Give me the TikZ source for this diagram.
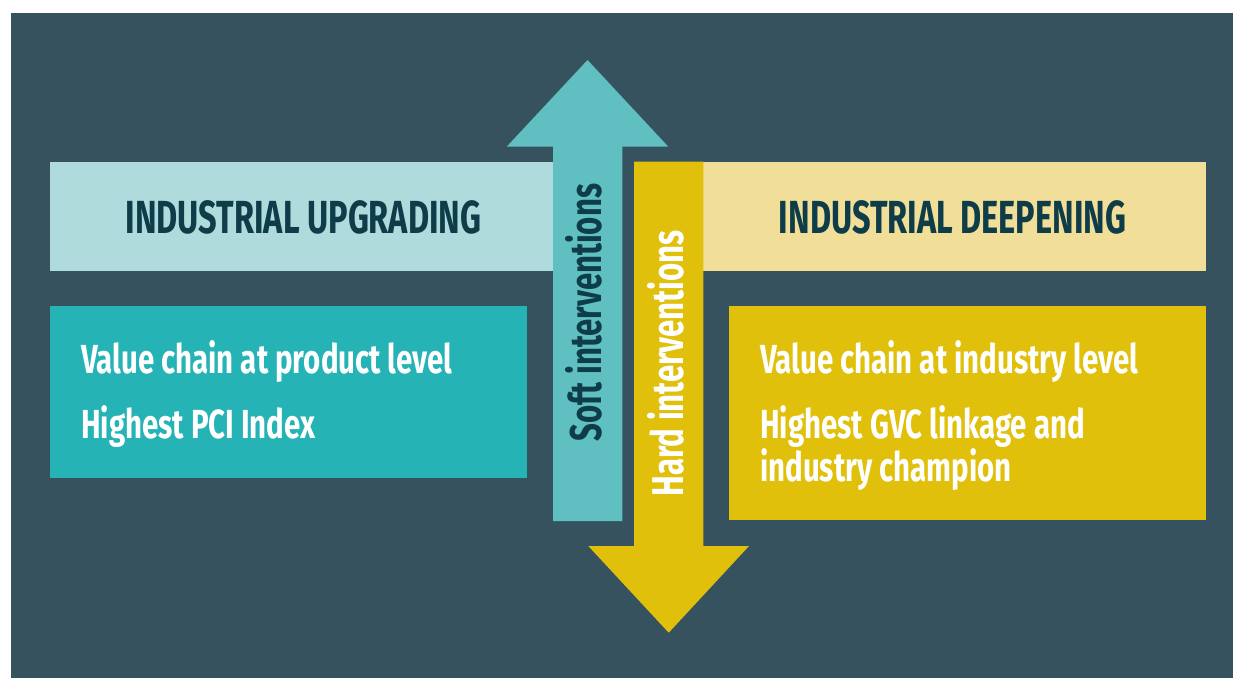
\documentclass[tikz,border=0pt]{standalone}
\usepackage{fontspec}
\setmainfont{Fira Sans}[FakeStretch=0.7]
\newfontfamily\bodyfont{Fira Sans}[FakeStretch=0.725]
\definecolor{bgc}{HTML}{36525F}
\definecolor{lteal}{HTML}{AFDBDC}
\definecolor{tealbox}{HTML}{25B3B6}
\definecolor{arrteal}{HTML}{5FBFC1}
\definecolor{ylw}{HTML}{E0C00A}
\definecolor{lylw}{HTML}{F1DE99}
\definecolor{darktext}{HTML}{0E3C48}
\begin{document}
\begin{tikzpicture}[x=1pt,y=1pt,
  bar/.style={anchor=south west, inner sep=0pt, outer sep=0pt, draw=none},
  headtxt/.style={font=\fontsize{46.4}{50}\selectfont\bfseries, text=darktext, anchor=base, inner sep=0pt},
  bodytxt/.style={font=\bodyfont\fontsize{40.6}{43.7}\selectfont\bfseries, text=white, anchor=base west, inner sep=0pt, align=left},
  vlab/.style={font=\fontsize{44.5}{50}\selectfont\bfseries, rotate=90, anchor=base, inner sep=0pt}]
\useasboundingbox (0,0) rectangle (1233,678);
\fill[bgc] (11,0) rectangle (1233,665);
% bars
\node[bar, fill=lteal, minimum width=510pt, minimum height=109pt] (upbar) at (50,407) {};
\node[bar, fill=lylw, minimum width=566pt, minimum height=109pt] (deepbar) at (640,407) {};
\node[bar, fill=tealbox, minimum width=477pt, minimum height=172pt] (upbox) at (50,200) {};
\node[bar, fill=ylw, minimum width=477pt, minimum height=214pt] (deepbox) at (729,158) {};
% arrows
\fill[arrteal] (553,157) -- (553,531.3) -- (506.7,531.3) -- (587.5,618) -- (668.3,531.3) -- (622.3,531.3) -- (622.3,157) -- cycle;
\fill[ylw] (634,516.3) -- (634,132) -- (588.3,132) -- (668.7,45.3) -- (749,132) -- (703.3,132) -- (703.3,516.3) -- cycle;
% texts
\node[headtxt] (uptitle) at (303.5,444.7) {INDUSTRIAL UPGRADING};
\node[headtxt] (deeptitle) at (952.5,444.7) {INDUSTRIAL DEEPENING};
\node[bodytxt] (up1) at (81,304.7) {Value chain at product level};
\node[bodytxt] (up2) at (81,240) {Highest PCI Index};
\node[bodytxt] (deep1) at (760,305) {Value chain at industry level};
\node[bodytxt] (deep2) at (760,196.3) {Highest GVC linkage and\\industry champion};
\node[vlab, text=darktext] (soft) at (601.7,365.5) {Soft interventions};
\node[vlab, text=white] (hard) at (683.3,314.7) {Hard interventions};
\end{tikzpicture}
\end{document}
